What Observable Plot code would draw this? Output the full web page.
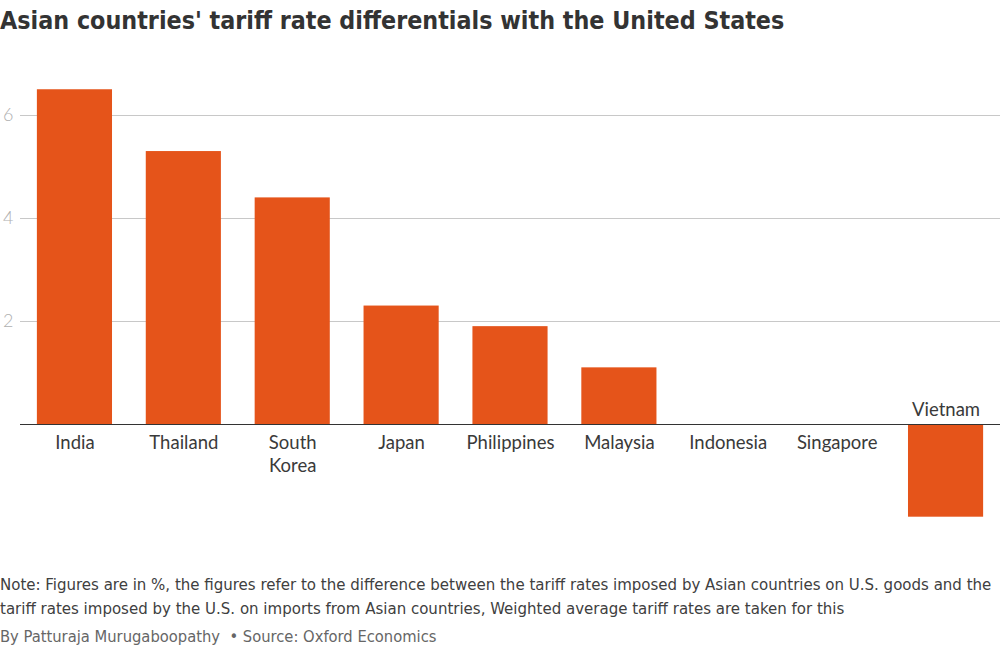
<!DOCTYPE html>
<html>
<head>
<meta charset="utf-8">
<script src="https://cdn.jsdelivr.net/npm/d3@7"></script>
<script src="https://cdn.jsdelivr.net/npm/@observablehq/plot@0.6"></script>
<style>
  html, body { margin: 0; padding: 0; background: #fff; }
  body { width: 1000px; height: 648px; position: relative; overflow: hidden; }
  #title { position: absolute; left: 0; top: 6px; font-family: "Liberation Sans Narrow", "DejaVu Sans Condensed", sans-serif; font-stretch: condensed; font-weight: bold; font-size: 24.8px; color: #333; white-space: nowrap; }
  #chart { position: absolute; left: 0; top: 50px; }
  #note { position: absolute; left: 0; top: 572px; width: 1000px; font-family: "Liberation Sans Narrow", "DejaVu Sans Condensed", sans-serif; font-stretch: condensed; font-size: 16.7px; line-height: 24px; color: #404040; }
  #byline { position: absolute; left: 0; top: 627px; font-family: "Liberation Sans Narrow", "DejaVu Sans Condensed", sans-serif; font-stretch: condensed; font-size: 16.4px; color: #666; white-space: nowrap; }
</style>
</head>
<body>
<div id="title">Asian countries' tariff rate differentials with the United States</div>
<div id="chart"></div>
<div id="note">Note: Figures are in %, the figures refer to the difference between the tariff rates imposed by Asian countries on U.S. goods and the tariff rates imposed by the U.S. on imports from Asian countries, Weighted average tariff rates are taken for this</div>
<div id="byline">By Patturaja Murugaboopathy &nbsp;• Source: Oxford Economics</div>
<script>
const countries = ["India", "Thailand", "South\nKorea", "Japan", "Philippines", "Malaysia", "Indonesia", "Singapore", "Vietnam"];
const values = [6.5, 5.3, 4.4, 2.3, 1.9, 1.1, 0, 0, -1.8];
const yTicks = [2, 4, 6];

const data = countries.map((c, i) => ({country: c, value: values[i]}));
const labelFont = "Lato, 'Open Sans', sans-serif";

const chart = Plot.plot({
  width: 1000,
  height: 500,
  marginLeft: 20,
  marginRight: 0,
  marginTop: 13.5,
  marginBottom: 23,
  x: {domain: countries, paddingInner: 0.31, paddingOuter: 0.155, round: false, axis: null},
  y: {domain: [-2, 7], axis: null},
  style: {fontFamily: labelFont, background: "#fff", overflow: "visible"},
  marks: [
    Plot.gridY(yTicks, {stroke: "#c8c8c8", strokeOpacity: 1}),
    Plot.axisY(yTicks, {tickSize: 0, tickPadding: 7, fontSize: 18, fill: "#b0b0b0", fontFamily: labelFont, fontWeight: 300, tickFormat: "d", label: null}),
    Plot.barY(data, {x: "country", y: "value", fill: "#e5541a"}),
    Plot.ruleY([0], {stroke: "#333", strokeWidth: 1.2}),
    Plot.text(data.filter(d => d.value >= 0), {x: "country", y: 0, text: "country", dy: 8, lineAnchor: "top", fontSize: 18.5, fill: "#3a3a3a", lineHeight: 1.25}),
    Plot.text(data.filter(d => d.value < 0), {x: "country", y: 0, text: "country", dy: -9, lineAnchor: "bottom", fontSize: 18.5, fill: "#3a3a3a"})
  ]
});
document.getElementById("chart").appendChild(chart);
</script>
</body>
</html>
